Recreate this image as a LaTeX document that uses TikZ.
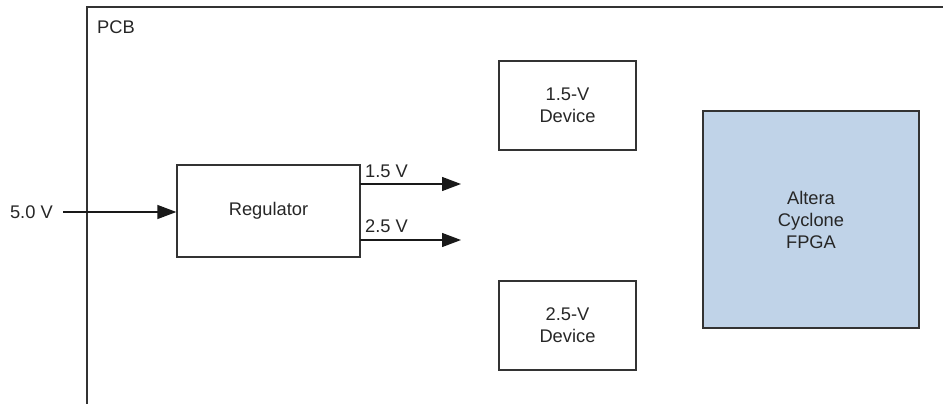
\documentclass[tikz,border=0pt]{standalone}
\usepackage{fontspec}
\setmainfont{Liberation Sans}
\usetikzlibrary{arrows.meta}
\definecolor{fpgablue}{HTML}{C0D3E8}
\definecolor{linegray}{HTML}{333333}
\begin{document}
\begin{tikzpicture}[x=1pt,y=-1pt,
  lbl/.style={font=\fontsize{18.3}{22}\selectfont, text=black!85, inner sep=0pt},
  blockbox/.style={draw=linegray, line width=1.3pt, align=center, font=\fontsize{18.3}{22}\selectfont, text=black!85, inner sep=0pt},
  feed/.style={draw=black!90, line width=1.3pt, -{Triangle[length=19pt,width=14pt]}}]
\useasboundingbox (0,0) rectangle (943,404);
% PCB outline
\draw[draw=linegray, line width=1.6pt] (87,404) -- (87,7) -- (943,7);
\node[lbl, anchor=west] (pcb) at (97,27) {PCB};
% Regulator
\node[blockbox, minimum width=183pt, minimum height=92pt] (reg) at (268.5,211) {Regulator};
\node[lbl, anchor=east] (vin) at (53,212) {5.0 V};
\coordinate (vinst) at (63,212);
\draw[feed] (vinst) -- (reg.west |- vinst);
% outputs
\coordinate (o1s) at (360,184);
\coordinate (o1e) at (461,184);
\coordinate (o2s) at (360,240);
\coordinate (o2e) at (461,240);
\draw[feed] (o1s) -- (o1e);
\draw[feed] (o2s) -- (o2e);
\node[lbl, anchor=west] (l15) at (365,171) {1.5 V};
\node[lbl, anchor=west] (l25) at (365,226) {2.5 V};
% Devices
\node[blockbox, minimum width=137pt, minimum height=89pt] (d15) at (567.5,105.5) {1.5-V\\Device};
\node[blockbox, minimum width=137pt, minimum height=89pt] (d25) at (567.5,325.5) {2.5-V\\Device};
% FPGA
\node[blockbox, fill=fpgablue, minimum width=216pt, minimum height=217pt] (fpga) at (811,219.5) {Altera\\Cyclone\\FPGA};
\end{tikzpicture}
\end{document}
